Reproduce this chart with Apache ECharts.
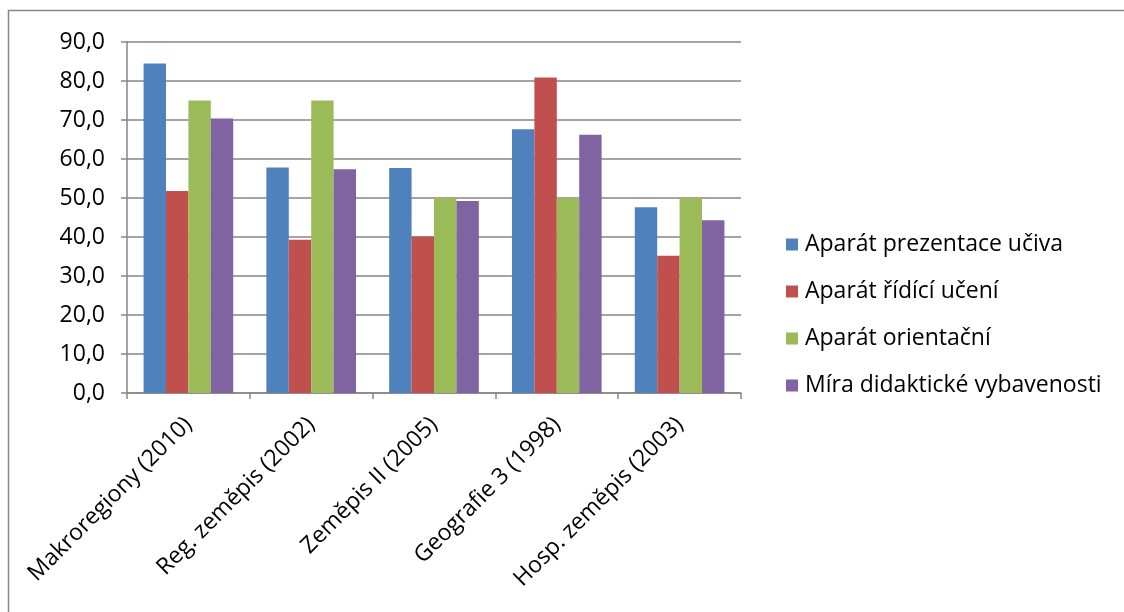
<!DOCTYPE html>
<html>
<head>
<meta charset="utf-8">
<script src="https://cdn.jsdelivr.net/npm/echarts@6/dist/echarts.min.js"></script>
<style>
  html, body { margin: 0; padding: 0; background: #fff; }
  #chart { width: 1124px; height: 612px; }
</style>
</head>
<body>
<div id="chart"></div>
<script>
// Textbooks compared on four didactic criteria (percent)
const categories = ['Makroregiony (2010)', 'Reg. zeměpis (2002)', 'Zeměpis II (2005)', 'Geografie 3 (1998)', 'Hosp. zeměpis (2003)'];
const seriesNames = ['Aparát prezentace učiva', 'Aparát řídící učení', 'Aparát orientační', 'Míra didaktické vybavenosti'];
const prezentace = [84.5, 57.8, 57.7, 67.6, 47.6];
const ridici = [51.8, 39.3, 40.1, 80.9, 35.2];
const orientacni = [75.0, 75.0, 50.0, 50.0, 50.0];
const vybavenost = [70.4, 57.4, 49.2, 66.2, 44.3];
const yTicks = { min: 0, max: 90, step: 10 };

const colors = ['#4F81BD', '#C0504D', '#9BBB59', '#8064A2'];
const values = [prezentace, ridici, orientacni, vybavenost];
const font = '"Open Sans", "Noto Sans", sans-serif';
const axisGray = '#868686';

const chart = echarts.init(document.getElementById('chart'), null, { renderer: 'canvas' });
chart.setOption({
  animation: false,
  backgroundColor: '#fff',
  color: colors,
  textStyle: { fontFamily: font },
  graphic: [{
    type: 'rect',
    shape: { x: 8.5, y: 10.5, width: 1200, height: 700 },
    style: { fill: 'none', stroke: axisGray, lineWidth: 1.5 },
    silent: true
  }],
  grid: { left: 127, right: 383, top: 42, bottom: 219, containLabel: false },
  legend: {
    orient: 'vertical',
    left: 781,
    top: 228,
    itemWidth: 12,
    itemHeight: 12,
    itemGap: 24,
    icon: 'rect',
    textStyle: { fontSize: 23, color: '#000', fontFamily: font, padding: [0, 0, 0, 2] },
    data: seriesNames
  },
  xAxis: {
    type: 'category',
    data: categories,
    boundaryGap: true,
    axisLine: { lineStyle: { color: axisGray, width: 1.5 } },
    axisTick: { show: true, alignWithLabel: false, length: 6, lineStyle: { color: axisGray, width: 1.5 } },
    axisLabel: { rotate: 45, fontSize: 23, color: '#000', margin: 28, fontFamily: font, interval: 0 }
  },
  yAxis: {
    type: 'value',
    min: yTicks.min,
    max: yTicks.max,
    interval: yTicks.step,
    axisLine: { show: true, lineStyle: { color: axisGray, width: 1.5 } },
    axisTick: { show: true, inside: false, length: 6, lineStyle: { color: axisGray, width: 1.5 } },
    splitLine: { show: true, lineStyle: { color: axisGray, width: 1.5 } },
    axisLabel: {
      fontSize: 23, color: '#000', margin: 22, fontFamily: font,
      formatter: v => v.toFixed(1).replace('.', ',')
    }
  },
  series: seriesNames.map((name, i) => ({
    name: name,
    type: 'bar',
    data: values[i],
    barGap: '0%',
    barCategoryGap: '27%',
    itemStyle: { color: colors[i] }
  }))
});
</script>
</body>
</html>
